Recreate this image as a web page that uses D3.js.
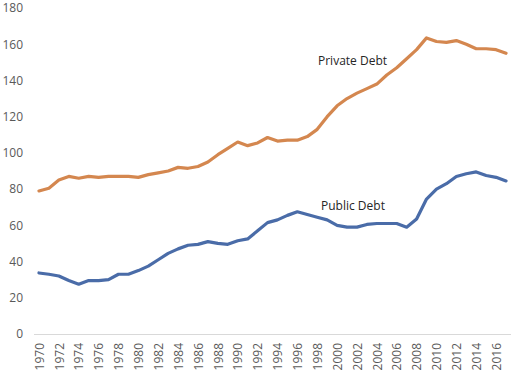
<!DOCTYPE html>
<html>
<head>
<meta charset="utf-8">
<script src="https://cdn.jsdelivr.net/npm/d3@7"></script>
<style>
  html, body { margin: 0; padding: 0; background: #fff; }
  svg { display: block; }
  text { font-family: "Open Sans", "Liberation Sans", sans-serif; }
</style>
</head>
<body>
<svg id="chart" width="522" height="380"></svg>
<script>
const years = d3.range(1970, 2018);
const privateDebt = [79, 80.5, 85, 87, 86, 87, 86.5, 87, 87, 87, 86.5, 88, 89, 90, 92, 91.5, 92.5, 95, 99, 102.5,
  106, 104, 105.5, 108.5, 106.5, 107, 107, 109, 113, 120, 126, 130, 133, 135.5, 138, 143, 147, 152, 157, 163.5,
  161.5, 161, 162, 160, 157.5, 157.5, 157, 155];
const publicDebt = [33.7, 33, 32, 29.5, 27.5, 29.5, 29.5, 30, 33, 33, 35, 37.5, 41, 44.5, 47, 49, 49.5, 51, 50, 49.5,
  51.5, 52.5, 57, 61.5, 63, 65.5, 67.5, 66, 64.5, 63, 60, 59, 59, 60.5, 61, 61, 61, 59, 63.5, 74.5,
  80, 83, 87, 88.5, 89.5, 87.5, 86.5, 84.5];
const yTicks = [0, 20, 40, 60, 80, 100, 120, 140, 160, 180];
const xTickYears = years.filter(y => y % 2 === 0);
const seriesNames = ["Private Debt", "Public Debt"];

const svg = d3.select("#chart");
const x = d3.scalePoint().domain(years).range([34, 511]).padding(0.5);
const y = d3.scaleLinear().domain([0, 180]).range([334, 8]);

// Y axis labels
const yAxis = d3.axisLeft(y).tickValues(yTicks).tickSize(0).tickPadding(0);
const gy = svg.append("g").attr("transform", "translate(23,0)").call(yAxis);
gy.select(".domain").remove();
gy.selectAll("text").attr("fill", "#595959").style("font-size", "12px");

// X axis
const xAxis = d3.axisBottom(x).tickValues(xTickYears).tickSize(0).tickPadding(0);
const gx = svg.append("g").attr("transform", "translate(0,334)").call(xAxis);
gx.select(".domain").remove();
gx.append("line").attr("x1", 34).attr("x2", 511).attr("y1", 0.5).attr("y2", 0.5)
  .attr("stroke", "#d9d9d9").attr("stroke-width", 1);
gx.selectAll(".tick text")
  .attr("fill", "#595959").style("font-size", "12px")
  .attr("text-anchor", "end")
  .attr("transform", "translate(0,9) rotate(-90)")
  .attr("x", 0).attr("y", 0).attr("dy", "0.35em");

const line = d3.line().x((d, i) => x(years[i])).y(d => y(d));

svg.append("path").datum(privateDebt).attr("d", line)
  .attr("fill", "none").attr("stroke", "#D4874F").attr("stroke-width", 3.2)
  .attr("stroke-linejoin", "round").attr("stroke-linecap", "round");
svg.append("path").datum(publicDebt).attr("d", line)
  .attr("fill", "none").attr("stroke", "#4A6CA8").attr("stroke-width", 3.2)
  .attr("stroke-linejoin", "round").attr("stroke-linecap", "round");

// Series labels
svg.append("text").attr("x", 318).attr("y", 61).attr("dy", "0.35em")
  .attr("fill", "#262626").style("font-size", "12px").text(seriesNames[0]);
svg.append("text").attr("x", 321).attr("y", 206).attr("dy", "0.35em")
  .attr("fill", "#262626").style("font-size", "12px").text(seriesNames[1]);
</script>
</body>
</html>
